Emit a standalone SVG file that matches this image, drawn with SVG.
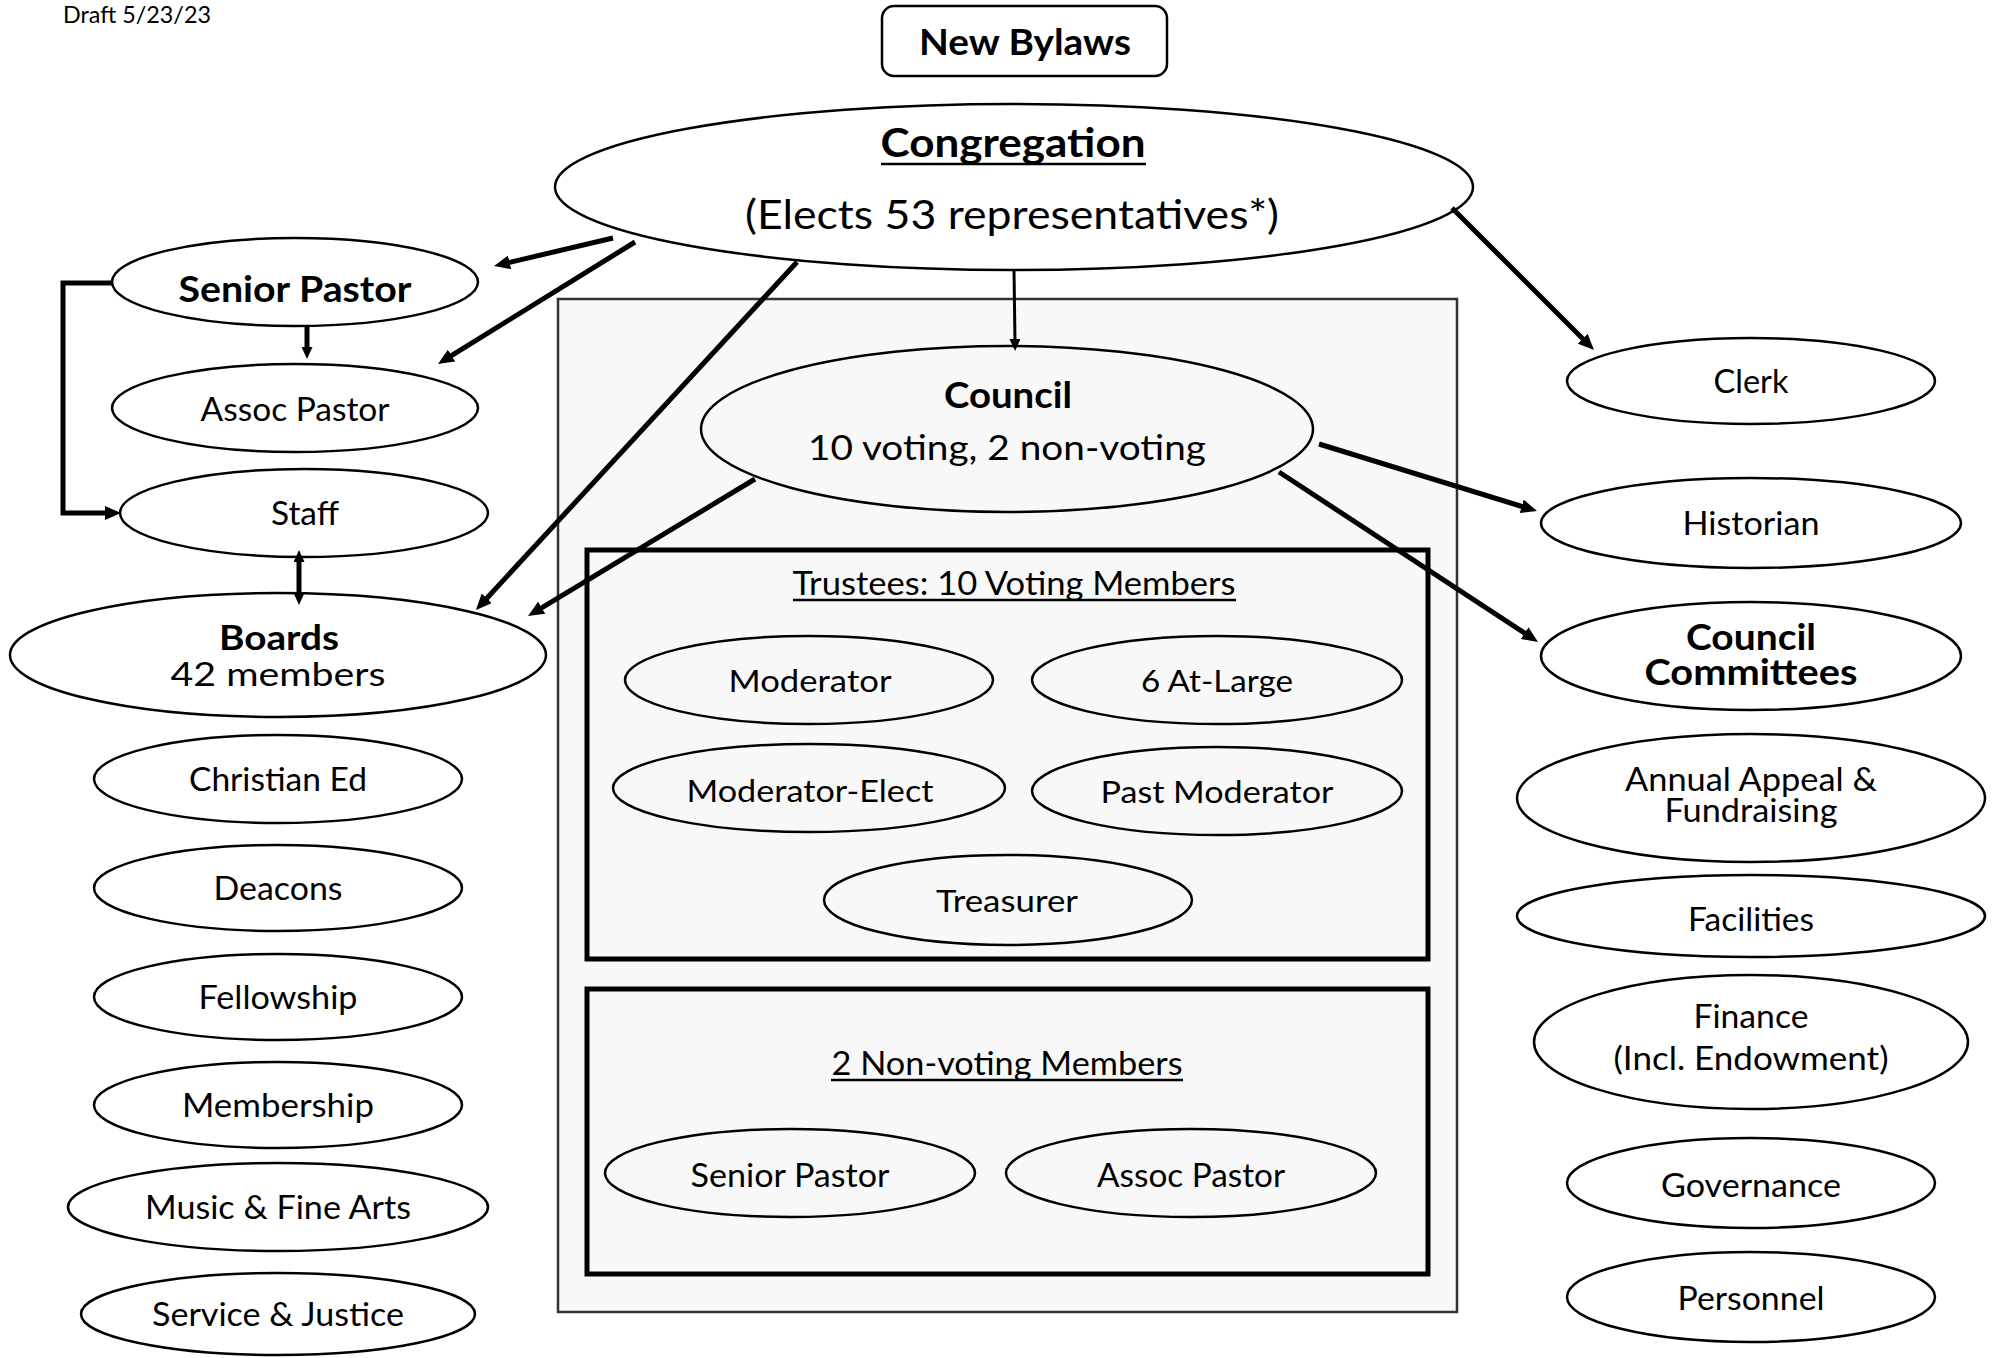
<svg xmlns="http://www.w3.org/2000/svg" width="1997" height="1358" viewBox="0 0 1997 1358">
<style>
.n{fill:none;stroke:#000;stroke-width:2.5}
.t{font-family:Lato,"Liberation Sans",sans-serif;fill:#000;text-anchor:middle}
.b{font-weight:bold}
.c{fill:none;stroke:#000;stroke-width:5}
.ct{fill:none;stroke:#000;stroke-width:3}
.box{fill:none;stroke:#000;stroke-width:5}
.ul{stroke:#000;stroke-width:2.5}
</style>
<defs>
<marker id="ah" markerUnits="userSpaceOnUse" markerWidth="16" markerHeight="14" refX="4" refY="7" orient="auto-start-reverse"><path d="M0,0 L16,7 L0,14 z" fill="#000"/></marker>
<marker id="ahs" markerUnits="userSpaceOnUse" markerWidth="12" markerHeight="11" refX="3" refY="5.5" orient="auto-start-reverse"><path d="M0,0 L12,5.5 L0,11 z" fill="#000"/></marker>
</defs>
<rect width="1997" height="1358" fill="#fff"/>
<text class="t" x="137" y="23" font-size="24" textLength="148" lengthAdjust="spacingAndGlyphs">Draft 5/23/23</text>

<g id="council-area">
<rect x="558" y="299" width="899" height="1013" fill="#f8f8f8" stroke="#333" stroke-width="2.5"/>
</g>

<g id="new-bylaws">
<rect x="882" y="6" width="285" height="70" rx="12" fill="#fff" stroke="#000" stroke-width="2.5"/>
<text class="t b" x="1025" y="55" font-size="36" textLength="212" lengthAdjust="spacingAndGlyphs">New Bylaws</text>
</g>

<g id="congregation">
<ellipse class="n" cx="1014" cy="187" rx="459" ry="83"/>
<text class="t b" x="1013" y="157" font-size="40" textLength="265" lengthAdjust="spacingAndGlyphs">Congregation</text>
<line class="ul" x1="881" y1="164" x2="1146" y2="164" stroke-width="3"/>
<text class="t" x="1012" y="229" font-size="40" textLength="534" lengthAdjust="spacingAndGlyphs">(Elects 53 representatives*)</text>
</g>

<g id="senior-pastor">
<ellipse class="n" cx="295" cy="282" rx="183" ry="44"/>
<text class="t b" x="295" y="302" font-size="37" textLength="233" lengthAdjust="spacingAndGlyphs">Senior Pastor</text>
</g>
<g id="assoc-pastor">
<ellipse class="n" cx="295" cy="408" rx="183" ry="44"/>
<text class="t" x="295" y="421" font-size="32" textLength="189" lengthAdjust="spacingAndGlyphs">Assoc Pastor</text>
</g>
<g id="staff">
<ellipse class="n" cx="304" cy="513" rx="184" ry="44"/>
<text class="t" x="305" y="525" font-size="32" textLength="68" lengthAdjust="spacingAndGlyphs">Staff</text>
</g>
<g id="boards">
<ellipse class="n" cx="278" cy="655" rx="268" ry="62"/>
<text class="t b" x="279" y="650" font-size="35" textLength="120" lengthAdjust="spacingAndGlyphs">Boards</text>
<text class="t" x="278" y="686" font-size="33" textLength="215" lengthAdjust="spacingAndGlyphs">42 members</text>
</g>
<g id="christian-ed">
<ellipse class="n" cx="278" cy="779" rx="184" ry="44"/>
<text class="t" x="278" y="791" font-size="32" textLength="178" lengthAdjust="spacingAndGlyphs">Christian Ed</text>
</g>
<g id="deacons">
<ellipse class="n" cx="278" cy="888" rx="184" ry="43"/>
<text class="t" x="278" y="900" font-size="32" textLength="129" lengthAdjust="spacingAndGlyphs">Deacons</text>
</g>
<g id="fellowship">
<ellipse class="n" cx="278" cy="997" rx="184" ry="43"/>
<text class="t" x="278" y="1009" font-size="32" textLength="159" lengthAdjust="spacingAndGlyphs">Fellowship</text>
</g>
<g id="membership">
<ellipse class="n" cx="278" cy="1105" rx="184" ry="43"/>
<text class="t" x="278" y="1117" font-size="32" textLength="192" lengthAdjust="spacingAndGlyphs">Membership</text>
</g>
<g id="music">
<ellipse class="n" cx="278" cy="1207" rx="210" ry="44"/>
<text class="t" x="278" y="1219" font-size="32" textLength="266" lengthAdjust="spacingAndGlyphs">Music &amp; Fine Arts</text>
</g>
<g id="service">
<ellipse class="n" cx="278" cy="1314" rx="197" ry="41"/>
<text class="t" x="278" y="1326" font-size="32" textLength="252" lengthAdjust="spacingAndGlyphs">Service &amp; Justice</text>
</g>

<g id="council">
<ellipse class="n" cx="1007" cy="429" rx="306" ry="83"/>
<text class="t b" x="1008" y="408" font-size="36" textLength="128" lengthAdjust="spacingAndGlyphs">Council</text>
<text class="t" x="1007" y="460" font-size="35" textLength="398" lengthAdjust="spacingAndGlyphs">10 voting, 2 non-voting</text>
</g>

<g id="trustees">
<rect class="box" x="587" y="550" width="841" height="409"/>
<text class="t" x="1014" y="595" font-size="32" textLength="443" lengthAdjust="spacingAndGlyphs">Trustees: 10 Voting Members</text>
<line class="ul" x1="793" y1="600" x2="1236" y2="600"/>
</g>
<g id="moderator">
<ellipse class="n" cx="809" cy="680" rx="184" ry="44"/>
<text class="t" x="810" y="692" font-size="31" textLength="163" lengthAdjust="spacingAndGlyphs">Moderator</text>
</g>
<g id="at-large">
<ellipse class="n" cx="1217" cy="680" rx="185" ry="44"/>
<text class="t" x="1217" y="692" font-size="31" textLength="152" lengthAdjust="spacingAndGlyphs">6 At-Large</text>
</g>
<g id="moderator-elect">
<ellipse class="n" cx="809" cy="788" rx="196" ry="44"/>
<text class="t" x="810" y="802" font-size="31" textLength="247" lengthAdjust="spacingAndGlyphs">Moderator-Elect</text>
</g>
<g id="past-moderator">
<ellipse class="n" cx="1217" cy="791" rx="185" ry="44"/>
<text class="t" x="1217" y="803" font-size="31" textLength="233" lengthAdjust="spacingAndGlyphs">Past Moderator</text>
</g>
<g id="treasurer">
<ellipse class="n" cx="1008" cy="900" rx="184" ry="45"/>
<text class="t" x="1007" y="912" font-size="31" textLength="142" lengthAdjust="spacingAndGlyphs">Treasurer</text>
</g>

<g id="non-voting">
<rect class="box" x="587" y="989" width="841" height="285"/>
<text class="t" x="1007" y="1075" font-size="32" textLength="351" lengthAdjust="spacingAndGlyphs">2 Non-voting Members</text>
<line class="ul" x1="831" y1="1080" x2="1183" y2="1080"/>
</g>
<g id="nv-senior-pastor">
<ellipse class="n" cx="790" cy="1173" rx="185" ry="44"/>
<text class="t" x="790" y="1187" font-size="32" textLength="199" lengthAdjust="spacingAndGlyphs">Senior Pastor</text>
</g>
<g id="nv-assoc-pastor">
<ellipse class="n" cx="1191" cy="1173" rx="185" ry="44"/>
<text class="t" x="1191" y="1187" font-size="32" textLength="188" lengthAdjust="spacingAndGlyphs">Assoc Pastor</text>
</g>

<g id="clerk">
<ellipse class="n" cx="1751" cy="381" rx="184" ry="43"/>
<text class="t" x="1751" y="393" font-size="32" textLength="75" lengthAdjust="spacingAndGlyphs">Clerk</text>
</g>
<g id="historian">
<ellipse class="n" cx="1751" cy="523" rx="210" ry="45"/>
<text class="t" x="1751" y="535" font-size="32" textLength="137" lengthAdjust="spacingAndGlyphs">Historian</text>
</g>
<g id="council-committees">
<ellipse class="n" cx="1751" cy="656" rx="210" ry="54"/>
<text class="t b" x="1751" y="650" font-size="36" textLength="130" lengthAdjust="spacingAndGlyphs">Council</text>
<text class="t b" x="1751" y="685" font-size="36" textLength="213" lengthAdjust="spacingAndGlyphs">Committees</text>
</g>
<g id="annual-appeal">
<ellipse class="n" cx="1751" cy="798" rx="234" ry="64"/>
<text class="t" x="1751" y="791" font-size="32" textLength="252" lengthAdjust="spacingAndGlyphs">Annual Appeal &amp;</text>
<text class="t" x="1751" y="822" font-size="32" textLength="173" lengthAdjust="spacingAndGlyphs">Fundraising</text>
</g>
<g id="facilities">
<ellipse class="n" cx="1751" cy="916" rx="234" ry="41"/>
<text class="t" x="1751" y="931" font-size="32" textLength="126" lengthAdjust="spacingAndGlyphs">Facilities</text>
</g>
<g id="finance">
<ellipse class="n" cx="1751" cy="1042" rx="217" ry="67"/>
<text class="t" x="1751" y="1028" font-size="32" textLength="115" lengthAdjust="spacingAndGlyphs">Finance</text>
<text class="t" x="1751" y="1070" font-size="32" textLength="275" lengthAdjust="spacingAndGlyphs">(Incl. Endowment)</text>
</g>
<g id="governance">
<ellipse class="n" cx="1751" cy="1183" rx="184" ry="45"/>
<text class="t" x="1751" y="1197" font-size="32" textLength="180" lengthAdjust="spacingAndGlyphs">Governance</text>
</g>
<g id="personnel">
<ellipse class="n" cx="1751" cy="1297" rx="184" ry="45"/>
<text class="t" x="1751" y="1310" font-size="32" textLength="147" lengthAdjust="spacingAndGlyphs">Personnel</text>
</g>

<g id="connectors">
<line class="c" x1="613" y1="238" x2="505.7" y2="263.3" marker-end="url(#ah)"/>
<line class="c" x1="635" y1="242" x2="448.2" y2="357.7" marker-end="url(#ah)"/>
<line class="c" x1="797" y1="262" x2="484.1" y2="601.2" marker-end="url(#ah)"/>
<line class="ct" x1="1014" y1="270" x2="1015" y2="342" marker-end="url(#ahs)"/>
<line class="c" x1="1452" y1="208" x2="1585.5" y2="341.5" marker-end="url(#ah)"/>
<line class="c" x1="755" y1="479" x2="538.3" y2="609.8" marker-end="url(#ah)"/>
<line class="c" x1="1319" y1="444" x2="1525.5" y2="507.5" marker-end="url(#ah)"/>
<line class="c" x1="1279" y1="472" x2="1528" y2="635.4" marker-end="url(#ah)"/>
<line class="c" x1="307" y1="326" x2="307" y2="350" stroke-width="4" marker-end="url(#ahs)"/>
<line class="c" x1="299" y1="559" x2="299" y2="596" stroke-width="4" marker-start="url(#ahs)" marker-end="url(#ahs)"/>
<path class="c" d="M112,283 H63 V513 H109" marker-end="url(#ah)"/>
</g>
</svg>
